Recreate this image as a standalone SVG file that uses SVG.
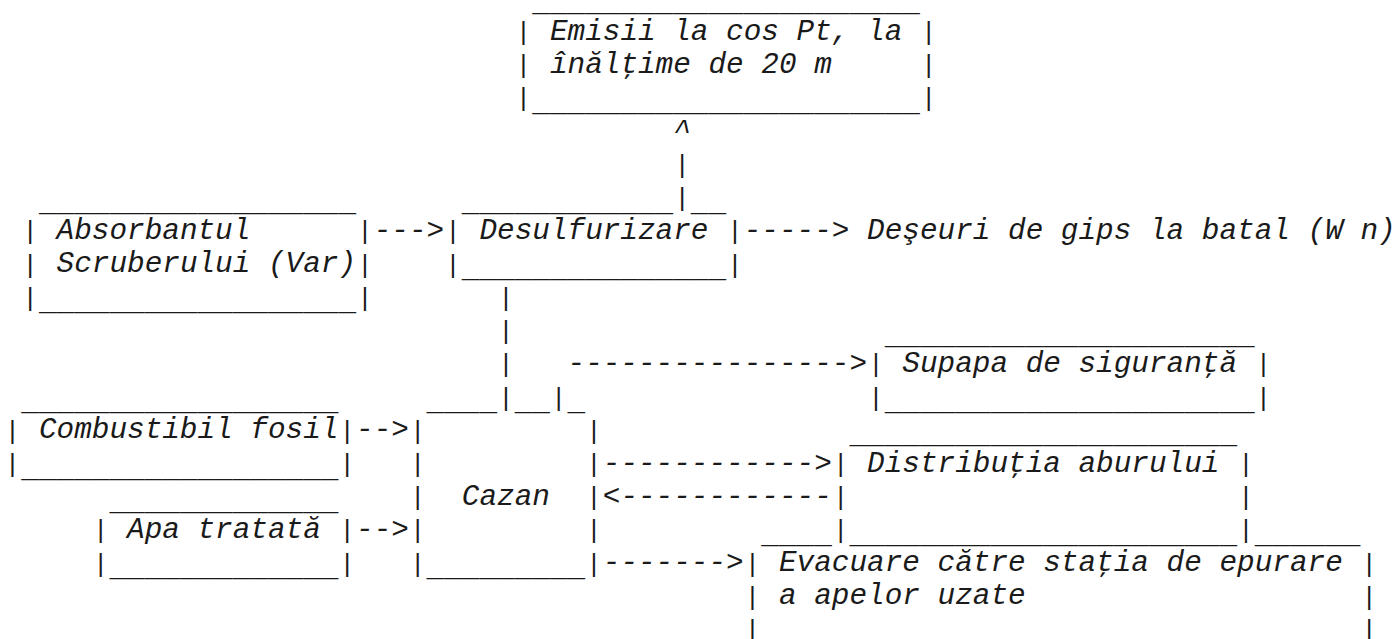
<svg xmlns="http://www.w3.org/2000/svg" width="1394" height="639" viewBox="0 0 1394 639" xml:space="preserve">
<style>
  /* character grid: column pitch 17.62px, row pitch 33.23px */
  text { font-family: "Liberation Mono", "Courier New", monospace; fill: #1a1a1a; white-space: pre; }
  .t { font-style: italic; font-size: 29.37px; }
  .u { font-size: 29.37px; }
  .b { font-size: 25.6px; text-anchor: middle; }
</style>
<rect width="1394" height="639" fill="#ffffff"/>

<g id="node-emisii">
  <text class="u" x="532.29" y="11.3">______________________</text>
  <text class="b" x="523.48" y="40.03">|</text>
  <text class="t" x="549.91" y="39.53">Emisii la cos Pt, la</text>
  <text class="b" x="928.74" y="40.03">|</text>
  <text class="b" x="523.48" y="73.26">|</text>
  <text class="t" x="549.91" y="72.76">înălţime de 20 m</text>
  <text class="b" x="928.74" y="73.26">|</text>
  <text class="b" x="523.48" y="106.49">|</text>
  <text class="u" x="532.29" y="110.99">______________________</text>
  <text class="b" x="928.74" y="106.49">|</text>
</g>

<g id="node-absorbant">
  <text class="u" x="38.93" y="210.68">__________________</text>
  <text class="b" x="30.12" y="239.41">|</text>
  <text class="t" x="56.55" y="238.91">Absorbantul</text>
  <text class="b" x="364.9" y="239.41">|</text>
  <text class="b" x="30.12" y="272.64">|</text>
  <text class="t" x="56.55" y="272.14">Scruberului (Var)</text>
  <text class="b" x="364.9" y="272.64">|</text>
  <text class="b" x="30.12" y="305.87">|</text>
  <text class="u" x="38.93" y="310.37">__________________</text>
  <text class="b" x="364.9" y="305.87">|</text>
</g>

<g id="node-desulfurizare">
  <text class="u" x="461.81" y="210.68">____________</text>
  <text class="u" x="690.87" y="210.68">__</text>
  <text class="b" x="453" y="239.41">|</text>
  <text class="t" x="479.43" y="238.91">Desulfurizare</text>
  <text class="b" x="734.92" y="239.41">|</text>
  <text class="b" x="453" y="272.64">|</text>
  <text class="u" x="461.81" y="277.14">_______________</text>
  <text class="b" x="734.92" y="272.64">|</text>
</g>

<g id="node-deseuri">
  <text class="t" x="867.07" y="238.91">Deşeuri de gips la batal (W n)</text>
</g>

<g id="node-supapa">
  <text class="u" x="884.69" y="343.6">_____________________</text>
  <text class="b" x="875.88" y="372.33">|</text>
  <text class="t" x="902.31" y="371.83">Supapa de siguranţă</text>
  <text class="b" x="1263.52" y="372.33">|</text>
  <text class="b" x="875.88" y="405.56">|</text>
  <text class="u" x="884.69" y="410.06">_____________________</text>
  <text class="b" x="1263.52" y="405.56">|</text>
</g>

<g id="node-combustibil">
  <text class="u" x="21.31" y="410.06">__________________</text>
  <text class="b" x="12.5" y="438.79">|</text>
  <text class="t" x="38.93" y="438.29">Combustibil fosil</text>
  <text class="b" x="347.28" y="438.79">|</text>
  <text class="b" x="12.5" y="472.02">|</text>
  <text class="u" x="21.31" y="476.52">__________________</text>
  <text class="b" x="347.28" y="472.02">|</text>
</g>

<g id="node-cazan">
  <text class="u" x="426.57" y="410.06">____</text>
  <text class="u" x="514.67" y="410.06">__</text>
  <text class="u" x="567.53" y="410.06">_</text>
  <text class="b" x="417.76" y="438.79">|</text>
  <text class="b" x="593.96" y="438.79">|</text>
  <text class="b" x="417.76" y="472.02">|</text>
  <text class="b" x="593.96" y="472.02">|</text>
  <text class="b" x="417.76" y="505.25">|</text>
  <text class="t" x="461.81" y="504.75">Cazan</text>
  <text class="b" x="593.96" y="505.25">|</text>
  <text class="b" x="417.76" y="538.48">|</text>
  <text class="b" x="593.96" y="538.48">|</text>
  <text class="b" x="417.76" y="571.71">|</text>
  <text class="u" x="426.57" y="576.21">_________</text>
  <text class="b" x="593.96" y="571.71">|</text>
</g>

<g id="node-apa">
  <text class="u" x="109.41" y="509.75">_____________</text>
  <text class="b" x="100.6" y="538.48">|</text>
  <text class="t" x="127.03" y="537.98">Apa tratată</text>
  <text class="b" x="347.28" y="538.48">|</text>
  <text class="b" x="100.6" y="571.71">|</text>
  <text class="u" x="109.41" y="576.21">_____________</text>
  <text class="b" x="347.28" y="571.71">|</text>
</g>

<g id="node-distributie">
  <text class="u" x="849.45" y="443.29">______________________</text>
  <text class="b" x="840.64" y="472.02">|</text>
  <text class="t" x="867.07" y="471.52">Distribuţia aburului</text>
  <text class="b" x="1245.9" y="472.02">|</text>
  <text class="b" x="840.64" y="505.25">|</text>
  <text class="b" x="1245.9" y="505.25">|</text>
  <text class="b" x="840.64" y="538.48">|</text>
  <text class="u" x="849.45" y="542.98">______________________</text>
  <text class="b" x="1245.9" y="538.48">|</text>
</g>

<g id="node-evacuare">
  <text class="u" x="761.35" y="542.98">____</text>
  <text class="u" x="1254.71" y="542.98">______</text>
  <text class="b" x="752.54" y="571.71">|</text>
  <text class="t" x="778.97" y="571.21">Evacuare către staţia de epurare</text>
  <text class="b" x="1369.24" y="571.71">|</text>
  <text class="b" x="752.54" y="604.94">|</text>
  <text class="t" x="778.97" y="604.44">a apelor uzate</text>
  <text class="b" x="1369.24" y="604.94">|</text>
  <text class="b" x="752.54" y="638.17">|</text>
  <text class="b" x="1369.24" y="638.17">|</text>
</g>

<g id="connectors">
  <!-- desulfurizare up to the stack -->
  <text class="t" x="673.25" y="139.22">^</text>
  <text class="b" x="682.06" y="172.95">|</text>
  <text class="b" x="682.06" y="206.18">|</text>
  <!-- absorbent into desulfurizare, gypsum out -->
  <text class="t" x="373.71" y="238.91">---&gt;</text>
  <text class="t" x="743.73" y="238.91">-----&gt;</text>
  <!-- flue gas from cazan up to desulfurizare -->
  <text class="b" x="505.86" y="305.87">|</text>
  <text class="b" x="505.86" y="339.1">|</text>
  <text class="b" x="505.86" y="372.33">|</text>
  <text class="b" x="505.86" y="405.56">|</text>
  <!-- cazan to safety valve -->
  <text class="b" x="558.72" y="405.56">|</text>
  <text class="t" x="567.53" y="371.83">----------------&gt;</text>
  <!-- inputs into cazan -->
  <text class="t" x="356.09" y="438.29">--&gt;</text>
  <text class="t" x="356.09" y="537.98">--&gt;</text>
  <!-- steam distribution loop -->
  <text class="t" x="602.77" y="471.52">------------&gt;</text>
  <text class="t" x="602.77" y="504.75">&lt;------------</text>
  <!-- cazan to waste water discharge -->
  <text class="t" x="602.77" y="571.21">-------&gt;</text>
</g>
</svg>
